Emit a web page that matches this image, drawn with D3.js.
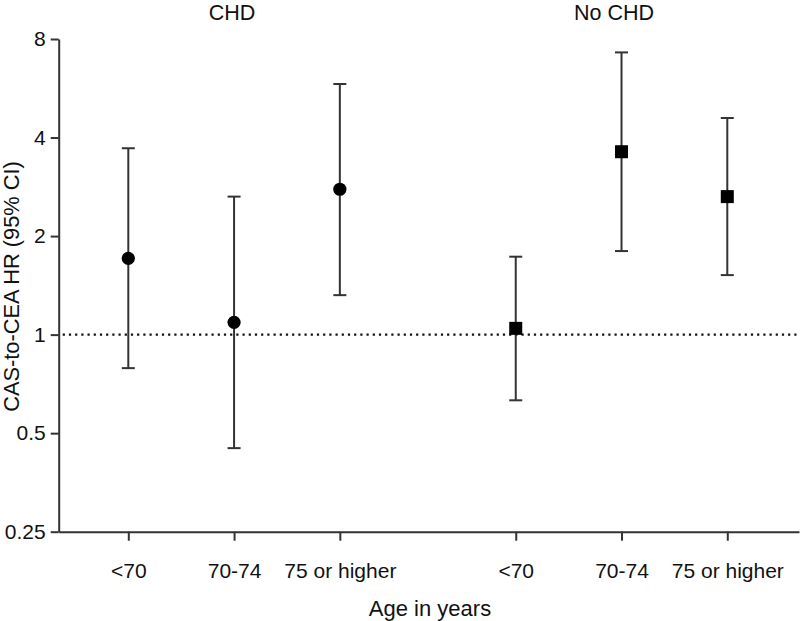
<!DOCTYPE html>
<html>
<head>
<meta charset="utf-8">
<script src="https://cdn.jsdelivr.net/npm/d3@7"></script>
<style>
  html, body { margin: 0; padding: 0; background: #fff; }
  svg { display: block; font-family: "Liberation Sans", Arial, sans-serif; }
</style>
</head>
<body>
<svg id="chart" width="800" height="621"></svg>
<script>
// ---- data ----
const groups = ["CHD", "No CHD"];
const ageCategories = ["<70", "70-74", "75 or higher"];
const chdHR    = [1.71, 1.09, 2.78];
const chdLower = [0.79, 0.45, 1.32];
const chdUpper = [3.71, 2.64, 5.83];
const noChdHR    = [1.045, 3.62, 2.64];
const noChdLower = [0.63, 1.80, 1.52];
const noChdUpper = [1.73, 7.28, 4.59];
const yTicks = [0.25, 0.5, 1, 2, 4, 8];
const yTickLabels = ["0.25", "0.5", "1", "2", "4", "8"];
const referenceHR = 1;

// ---- layout ----
const svg = d3.select("#chart");
const groupGap = 0.663;
const fontSize = 21;

const rows = [];
groups.forEach((g, gi) => {
  const hr = gi === 0 ? chdHR : noChdHR;
  const lo = gi === 0 ? chdLower : noChdLower;
  const hi = gi === 0 ? chdUpper : noChdUpper;
  ageCategories.forEach((a, ai) => {
    rows.push({ group: g, gi, age: a, pos: gi * (ageCategories.length + groupGap) + ai, hr: hr[ai], lo: lo[ai], hi: hi[ai] });
  });
});

const x = d3.scaleLinear().domain([-0.658, 6.341]).range([58.7, 799]);
const y = d3.scaleLog().base(2).domain([0.25, 8]).range([531.7, 39]);

// reference line
svg.append("line")
  .attr("x1", x(-0.658) + 4).attr("x2", 799)
  .attr("y1", y(referenceHR)).attr("y2", y(referenceHR))
  .attr("stroke", "#111").attr("stroke-width", 2.4)
  .attr("stroke-dasharray", "2.2,4");

// y axis
const yAxis = svg.append("g")
  .attr("transform", `translate(${x(-0.658)},0)`)
  .call(d3.axisLeft(y).tickValues(yTicks).tickFormat((d, i) => yTickLabels[i]).tickSize(8).tickSizeOuter(0).tickPadding(5));
yAxis.select(".domain").attr("stroke", "#333").attr("stroke-width", 2);
yAxis.selectAll(".tick line").attr("stroke", "#333").attr("stroke-width", 2);
yAxis.selectAll(".tick text").attr("font-size", fontSize).attr("fill", "#111").attr("font-family", "Liberation Sans, Arial, sans-serif");

// x axis
const xAxis = svg.append("g")
  .attr("transform", `translate(0,${y(0.25)})`)
  .call(d3.axisBottom(x).tickValues(rows.map(r => r.pos)).tickFormat((d, i) => rows[i].age).tickSize(9).tickSizeOuter(0).tickPadding(22));
xAxis.select(".domain").attr("stroke", "#333").attr("stroke-width", 2);
xAxis.selectAll(".tick line").attr("stroke", "#333").attr("stroke-width", 2);
xAxis.selectAll(".tick text").attr("font-size", fontSize).attr("fill", "#111").attr("font-family", "Liberation Sans, Arial, sans-serif");

// error bars
const capHalf = 6.5;
const bars = svg.append("g").selectAll("g").data(rows).join("g");
bars.append("line")
  .attr("x1", d => x(d.pos)).attr("x2", d => x(d.pos))
  .attr("y1", d => y(d.lo)).attr("y2", d => y(d.hi))
  .attr("stroke", "#333").attr("stroke-width", 2);
bars.append("line")
  .attr("x1", d => x(d.pos) - capHalf).attr("x2", d => x(d.pos) + capHalf)
  .attr("y1", d => y(d.hi)).attr("y2", d => y(d.hi))
  .attr("stroke", "#333").attr("stroke-width", 2);
bars.append("line")
  .attr("x1", d => x(d.pos) - capHalf).attr("x2", d => x(d.pos) + capHalf)
  .attr("y1", d => y(d.lo)).attr("y2", d => y(d.lo))
  .attr("stroke", "#333").attr("stroke-width", 2);

// markers
bars.filter(d => d.gi === 0).append("circle")
  .attr("cx", d => x(d.pos)).attr("cy", d => y(d.hr)).attr("r", 6.6)
  .attr("fill", "#000");
bars.filter(d => d.gi === 1).append("rect")
  .attr("x", d => x(d.pos) - 6.5).attr("y", d => y(d.hr) - 6.5)
  .attr("width", 13).attr("height", 13)
  .attr("fill", "#000");

// group titles
svg.append("text").attr("x", 232).attr("y", 20).attr("text-anchor", "middle")
  .attr("font-size", 21.5).attr("fill", "#111").text(groups[0]);
svg.append("text").attr("x", 614).attr("y", 20).attr("text-anchor", "middle")
  .attr("font-size", 21.5).attr("fill", "#111").text(groups[1]);

// axis titles
svg.append("text").attr("x", 430).attr("y", 615.5).attr("text-anchor", "middle")
  .attr("font-size", 22).attr("fill", "#111").text("Age in years");
svg.append("text")
  .attr("transform", "translate(19,286.5) rotate(-90)")
  .attr("text-anchor", "middle")
  .attr("font-size", 21.8).attr("fill", "#111").text("CAS-to-CEA HR (95% CI)");
</script>
</body>
</html>
